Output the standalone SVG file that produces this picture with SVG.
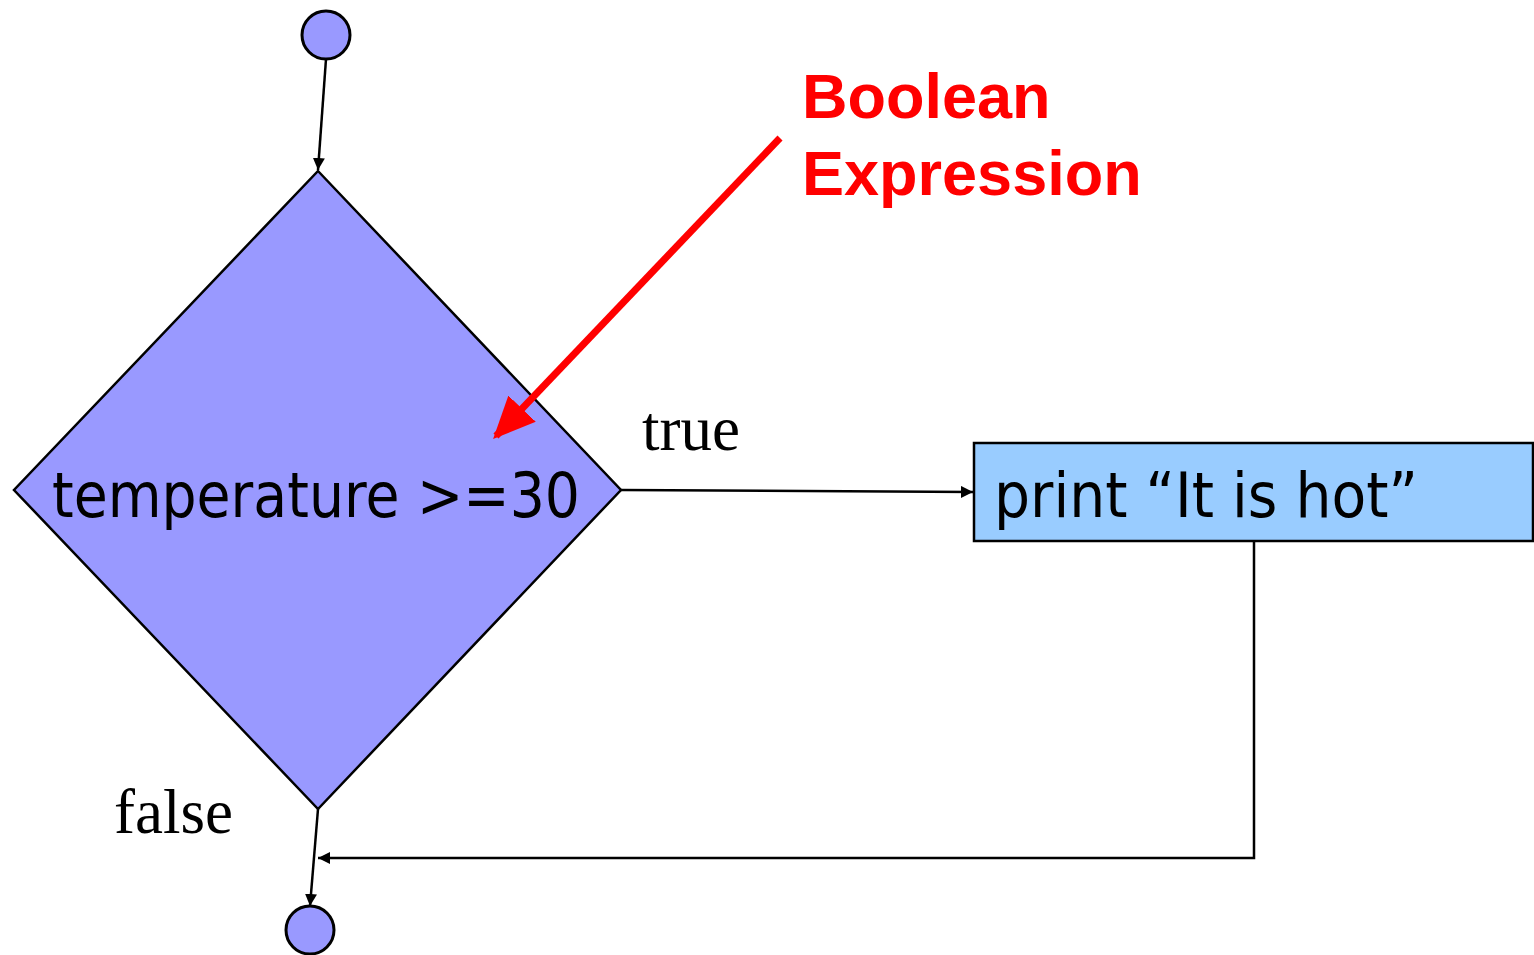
<svg xmlns="http://www.w3.org/2000/svg" width="1534" height="955" viewBox="0 0 1534 955">
<style>
.node{stroke:#000;stroke-width:2.5}
.term{fill:#9999FF;stroke:#000;stroke-width:3}
.conn{fill:none;stroke:#000;stroke-width:2.5}
.lbl{font-family:"Liberation Serif",serif;font-size:63px;fill:#000}
.sans{font-family:"DejaVu Sans","Liberation Sans",sans-serif;font-size:62px;fill:#000}
.red{font-family:"Liberation Sans",Arial,sans-serif;font-weight:bold;font-size:63px;fill:#FF0000}
</style>
<defs>
<marker id="ah" viewBox="0 0 10 10" refX="10" refY="5" markerWidth="12" markerHeight="12" markerUnits="userSpaceOnUse" orient="auto">
<path d="M0,0 L10,5 L0,10 Z" fill="#000"/>
</marker>
<marker id="rah" viewBox="0 0 10 10" refX="9" refY="5" markerWidth="6" markerHeight="6" orient="auto">
<path d="M0,0.5 L10,5 L0,9.5 Z" fill="#FF0000"/>
</marker>
</defs>
<g id="connectors">
<line class="conn" x1="326" y1="59" x2="318" y2="170" marker-end="url(#ah)"/>
<line class="conn" x1="621" y1="490" x2="973" y2="492" marker-end="url(#ah)"/>
<polyline class="conn" points="1254,541 1254,858 318,858" marker-end="url(#ah)"/>
<line class="conn" x1="318" y1="809" x2="310" y2="906" marker-end="url(#ah)"/>
</g>
<g id="start"><circle class="term" cx="326" cy="35" r="24"/></g>
<g id="decision">
<polygon points="318,171 621,490 318,809 14,490" fill="#9999FF" class="node"/>
<text class="sans" x="52" y="517" textLength="528" lengthAdjust="spacingAndGlyphs">temperature &gt;=30</text>
</g>
<g id="action">
<rect x="974" y="443" width="559" height="98" fill="#99CCFF" class="node"/>
<text class="sans" x="994" y="517" textLength="424" lengthAdjust="spacingAndGlyphs">print “It is hot”</text>
</g>
<g id="end"><circle class="term" cx="310" cy="930" r="24"/></g>
<text class="lbl" x="642" y="450">true</text>
<text class="lbl" x="114" y="833">false</text>
<g id="annotation">
<line x1="780" y1="138" x2="496" y2="436" stroke="#FF0000" stroke-width="7" marker-end="url(#rah)"/>
<text class="red" x="802" y="118">Boolean</text>
<text class="red" x="802" y="195">Expression</text>
</g>
</svg>
